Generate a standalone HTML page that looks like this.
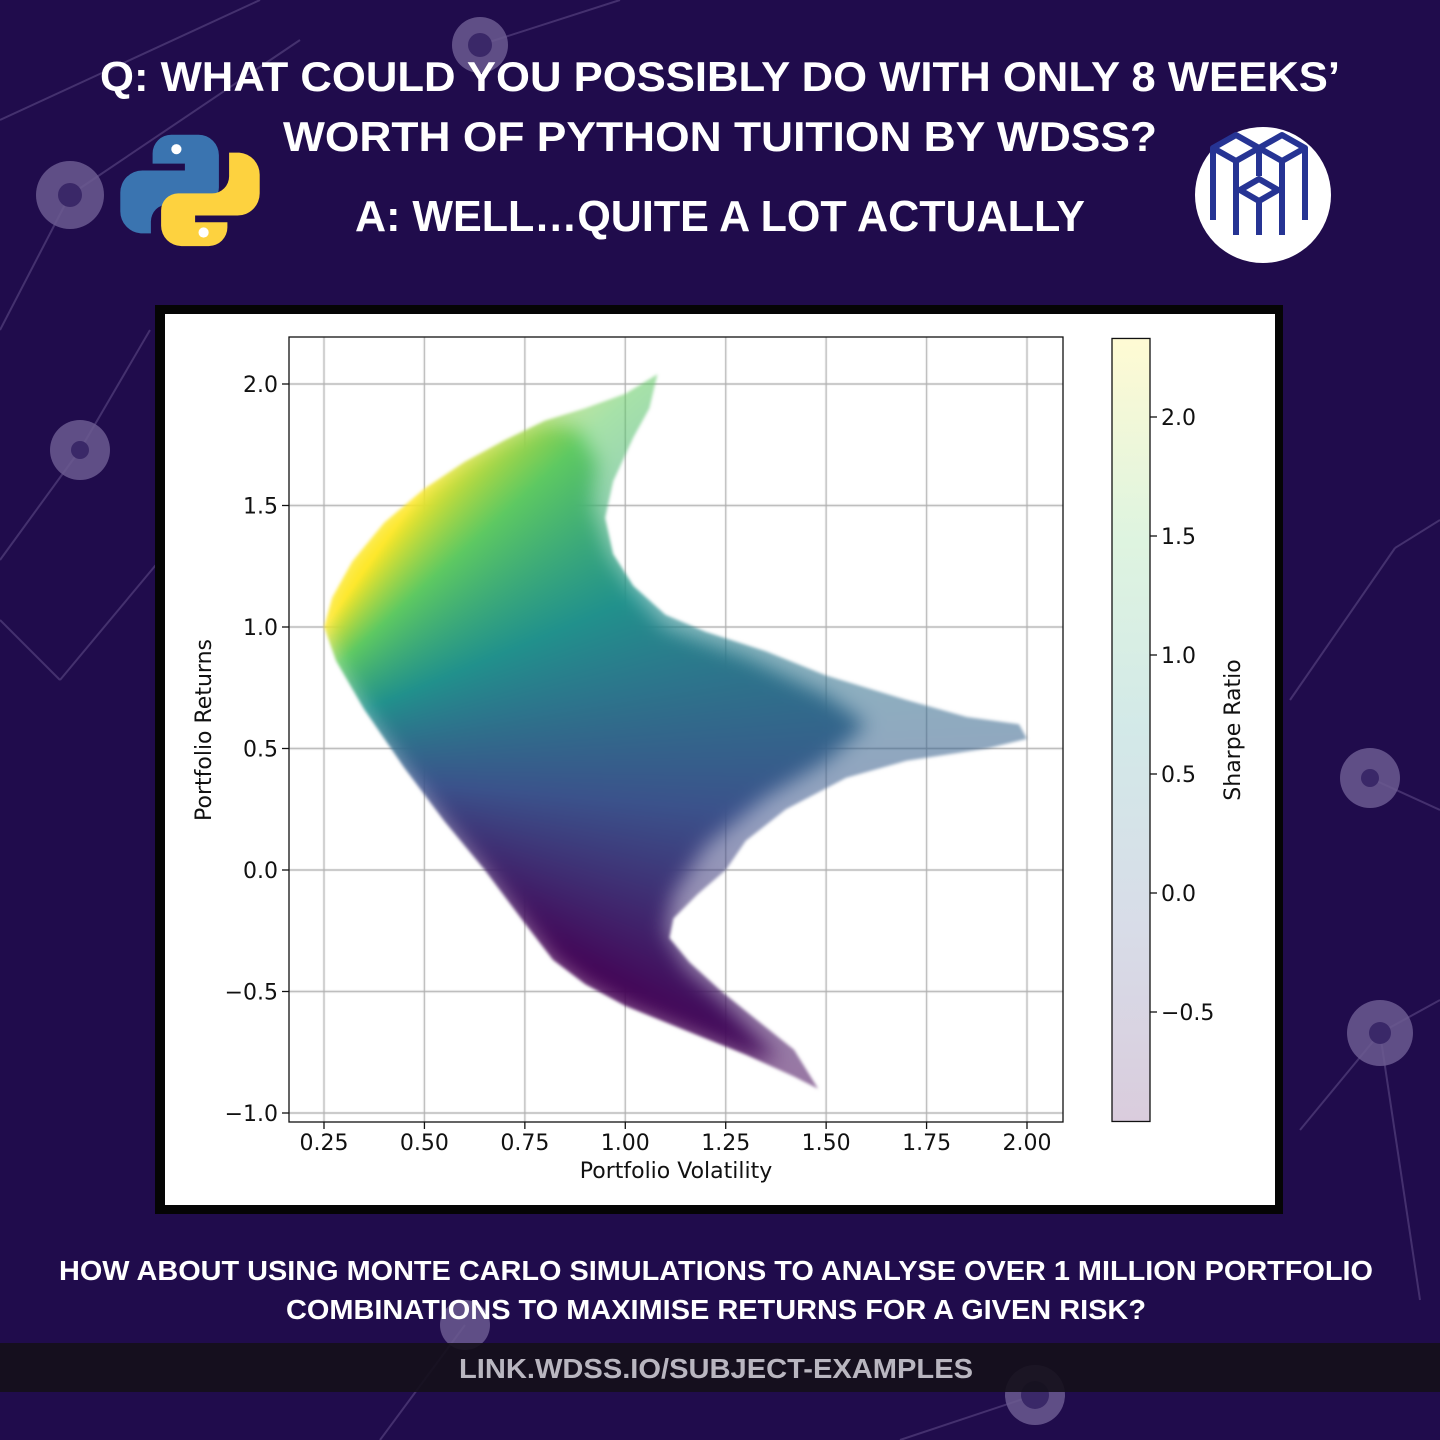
<!DOCTYPE html>
<html><head><meta charset="utf-8"><style>
html,body{margin:0;padding:0;background:#1f0c4a;}
#wrap{position:relative;width:1440px;height:1440px;overflow:hidden;font-family:"Liberation Sans",sans-serif;}
svg,canvas{position:absolute;left:0;top:0;}
</style></head><body>
<div id="wrap">
<svg id="bg" width="1440" height="1440">
  <rect width="1440" height="1440" fill="#200c4c"/>
  <g stroke="#5d4a86" stroke-width="2" fill="none" opacity="0.6">
    <line x1="0" y1="120" x2="260" y2="0"/><line x1="70" y1="195" x2="0" y2="330"/>
    <line x1="70" y1="195" x2="300" y2="40"/><line x1="80" y1="450" x2="0" y2="560"/>
    <line x1="80" y1="450" x2="150" y2="330"/><line x1="60" y1="680" x2="0" y2="620"/>
    <line x1="60" y1="680" x2="160" y2="560"/><line x1="1395" y1="548" x2="1440" y2="520"/>
    <line x1="1395" y1="548" x2="1290" y2="700"/><line x1="1370" y1="778" x2="1440" y2="810"/>
    <line x1="1380" y1="1033" x2="1440" y2="1000"/><line x1="1380" y1="1033" x2="1300" y2="1130"/>
    <line x1="1035" y1="1395" x2="900" y2="1440"/><line x1="465" y1="1325" x2="380" y2="1440"/>
    <line x1="1380" y1="1033" x2="1420" y2="1300"/><line x1="480" y1="45" x2="620" y2="0"/>
  </g>
  <g fill="#6b5a90" opacity="0.85">
    <circle cx="70" cy="195" r="34"/><circle cx="80" cy="450" r="30"/>
    <circle cx="1370" cy="778" r="30"/><circle cx="1380" cy="1033" r="33"/>
    <circle cx="480" cy="45" r="28"/><circle cx="1035" cy="1395" r="30"/><circle cx="465" cy="1325" r="25"/>
  </g>
  <g fill="#3a2868"><circle cx="70" cy="195" r="12"/><circle cx="80" cy="450" r="9"/><circle cx="1370" cy="778" r="9"/><circle cx="1380" cy="1033" r="11"/><circle cx="480" cy="45" r="12"/><circle cx="1035" cy="1395" r="14"/></g>
  <rect x="155" y="305" width="1128" height="909" fill="#050505"/>
  <rect x="165" y="314" width="1110" height="891" fill="#ffffff"/>
</svg>
<canvas id="plot" width="774" height="785" style="left:289px;top:337px;"></canvas>
<svg id="fg" width="1440" height="1440">
  <g fill="#fff" font-weight="bold" text-anchor="middle" font-family="'Liberation Sans',sans-serif">
    <text x="720" y="91" font-size="42" textLength="1240" lengthAdjust="spacingAndGlyphs">Q: WHAT COULD YOU POSSIBLY DO WITH ONLY 8 WEEKS’</text>
    <text x="720" y="151" font-size="42" textLength="874" lengthAdjust="spacingAndGlyphs">WORTH OF PYTHON TUITION BY WDSS?</text>
    <text x="720" y="231" font-size="44" textLength="730" lengthAdjust="spacingAndGlyphs">A: WELL…QUITE A LOT ACTUALLY</text>
    <text x="716" y="1280" font-size="28" textLength="1314" lengthAdjust="spacingAndGlyphs">HOW ABOUT USING MONTE CARLO SIMULATIONS TO ANALYSE OVER 1 MILLION PORTFOLIO</text>
    <text x="716" y="1319" font-size="28" textLength="860" lengthAdjust="spacingAndGlyphs">COMBINATIONS TO MAXIMISE RETURNS FOR A GIVEN RISK?</text>
  </g>
  <rect x="0" y="1343" width="1440" height="49" fill="#141019" opacity="0.9"/>
  <text x="716" y="1378" font-size="28" font-weight="bold" fill="#b9b6c0" text-anchor="middle" textLength="514" lengthAdjust="spacingAndGlyphs">LINK.WDSS.IO/SUBJECT-EXAMPLES</text>
  <g transform="translate(190,190) scale(0.85) translate(-190,-190)">
    <path d="M186,125 h14 a24,24 0 0 1 24,24 v38 a20,20 0 0 1 -20,20 h-40 a20,20 0 0 0 -20,20 v14 h-12 a26,26 0 0 1 -24,-26 v-22 a26,26 0 0 1 26,-26 h50 v-8 h-38 v-12 a22,22 0 0 1 22,-22 z" fill="#3a74b0"/>
    <path d="M194,256 h-14 a24,24 0 0 1 -24,-24 v-18 a20,20 0 0 1 20,-20 h40 a20,20 0 0 0 20,-20 v-28 h12 a26,26 0 0 1 24,26 v22 a26,26 0 0 1 -26,26 h-50 v8 h38 v6 a22,22 0 0 1 -22,22 z" fill="#fdd23f"/>
    <circle cx="174" cy="142" r="6" fill="#fff"/><circle cx="206" cy="240" r="6" fill="#fff"/>
  </g>
  <g>
    <circle cx="1263" cy="195" r="68" fill="#fff"/>
    <g fill="none" stroke="#263494" stroke-width="6" stroke-linejoin="round">
      <path d="M1213,220 v-72 l23,-13 l23,13 l23,-13 l23,13 v72"/>
      <path d="M1213,148 l23,13 l23,-13 M1259,148 l23,13 l23,-13"/>
      <path d="M1236,161 v74 M1282,161 v74 M1259,148 v28"/>
      <path d="M1240,190 l19,-11 l19,11 l-19,11 z M1259,201 v34"/>
    </g>
  </g>
  <g font-family="'DejaVu Sans',sans-serif" font-size="22" fill="#111">
    <rect x="289" y="337" width="774" height="785" fill="none" stroke="#111" stroke-width="1.3"/>
    <g id="xt"></g>
    <g id="yt"></g>
    <text x="676" y="1178" text-anchor="middle">Portfolio Volatility</text>
    <text transform="translate(211,730) rotate(-90)" text-anchor="middle">Portfolio Returns</text>
    <g id="cb"></g>
    <text transform="translate(1240,730) rotate(-90)" text-anchor="middle">Sharpe Ratio</text>
  </g>
  <defs><linearGradient id="vg" x1="0" y1="1" x2="0" y2="0">
    <stop offset="0" stop-color="#440154"/><stop offset="0.25" stop-color="#3b528b"/><stop offset="0.5" stop-color="#21918c"/><stop offset="0.75" stop-color="#5ec962"/><stop offset="1" stop-color="#fde725"/>
  </linearGradient></defs>
</svg>
</div>
<script>
const xTicks=[0.25,0.5,0.75,1.0,1.25,1.5,1.75,2.0];
const xTickLabels=["0.25","0.50","0.75","1.00","1.25","1.50","1.75","2.00"];
const yTicks=[-1.0,-0.5,0.0,0.5,1.0,1.5,2.0];
const yTickLabels=["\u22121.0","\u22120.5","0.0","0.5","1.0","1.5","2.0"];
const cbTicks=[-0.5,0.0,0.5,1.0,1.5,2.0];
const cbTickLabels=["\u22120.5","0.0","0.5","1.0","1.5","2.0"];
const cbMin=-0.96, cbMax=2.33, riskFree=0.42;
const outerVol=[0.25,0.27,0.32,0.4,0.5,0.6,0.7,0.8,0.9,1.0,1.08,1.06,1.02,0.97,0.95,0.97,1.02,1.1,1.2,1.35,1.5,1.7,1.85,1.98,2.0,1.9,1.7,1.55,1.4,1.3,1.25,1.18,1.12,1.11,1.16,1.24,1.33,1.42,1.48,1.42,1.3,1.15,1.0,0.9,0.82,0.75,0.65,0.55,0.45,0.35,0.28];
const outerRet=[1.0,1.12,1.27,1.43,1.57,1.68,1.77,1.85,1.9,1.96,2.04,1.9,1.78,1.6,1.45,1.3,1.17,1.05,0.98,0.9,0.8,0.7,0.63,0.6,0.54,0.5,0.45,0.38,0.25,0.12,0.0,-0.1,-0.2,-0.28,-0.38,-0.5,-0.62,-0.74,-0.9,-0.85,-0.76,-0.66,-0.56,-0.47,-0.37,-0.22,0.0,0.2,0.42,0.66,0.86];
const coreVol=[0.25,0.27,0.32,0.4,0.5,0.6,0.7,0.8,0.88,0.93,0.92,0.96,1.02,1.1,1.3,1.5,1.6,1.5,1.35,1.2,1.12,1.1,1.15,1.25,1.38,1.3,1.15,1.0,0.9,0.82,0.75,0.65,0.55,0.45,0.35,0.28];
const coreRet=[1.0,1.12,1.27,1.43,1.57,1.68,1.77,1.84,1.82,1.68,1.5,1.3,1.15,1.0,0.88,0.72,0.6,0.45,0.3,0.1,-0.1,-0.25,-0.4,-0.55,-0.78,-0.76,-0.66,-0.56,-0.47,-0.37,-0.22,0.0,0.2,0.42,0.66,0.86];

const X0=289,Y0=337,W=774,H=785;
const sx=v=>324+(v-0.25)*(1027-324)/1.75;
const sy=v=>870-v*(870-384)/2.0;
const cy=v=>1012-(v+0.5)*(1012-417)/2.5;
const NS="http://www.w3.org/2000/svg";
function mk(tag,attrs,parent,txt){const e=document.createElementNS(NS,tag);for(const k in attrs)e.setAttribute(k,attrs[k]);if(txt!==undefined)e.textContent=txt;parent.appendChild(e);return e;}
const xt=document.getElementById('xt'),yt=document.getElementById('yt'),cb=document.getElementById('cb');
xTicks.forEach((v,i)=>{const x=sx(v);
  const l=mk('line',{x1:x,x2:x,y1:1122,y2:1129,stroke:'#111','stroke-width':1.3},xt);
  
  
  const t=mk('text',{x:x,y:1150,'text-anchor':'middle'},xt,xTickLabels[i]);
  
  });
yTicks.forEach((v,i)=>{const y=sy(v);
  const l=mk('line',{x1:282,x2:289,y1:y,y2:y,stroke:'#111','stroke-width':1.3},yt);
  
  
  const t=mk('text',{x:278,y:y+8,'text-anchor':'end'},yt,yTickLabels[i]);
  
  });
const bar=mk('rect',{x:1112,y:cy(cbMax),width:38,height:cy(cbMin)-cy(cbMax),fill:'url(#vg)','fill-opacity':0.2},cb);


mk('rect',{x:1112,y:cy(cbMax),width:38,height:cy(cbMin)-cy(cbMax),fill:'none',stroke:'#111','stroke-width':1.3},cb);
cbTicks.forEach((v,i)=>{const y=cy(v);
  mk('line',{x1:1150,x2:1157,y1:y,y2:y,stroke:'#111','stroke-width':1.3},cb);
  const t=mk('text',{x:1161,y:y+8},cb,cbTickLabels[i]);
  
  });

const cv=document.getElementById('plot'),ctx=cv.getContext('2d');
ctx.fillStyle='#fff';ctx.fillRect(0,0,W,H);
ctx.strokeStyle='#b0b0b0';ctx.lineWidth=1.3;
xTicks.forEach(v=>{ctx.beginPath();ctx.moveTo(sx(v)-X0,0);ctx.lineTo(sx(v)-X0,H);ctx.stroke();});
yTicks.forEach(v=>{ctx.beginPath();ctx.moveTo(0,sy(v)-Y0);ctx.lineTo(W,sy(v)-Y0);ctx.stroke();});
function mask(vols,rets,blur){const c=document.createElement('canvas');c.width=W;c.height=H;const g=c.getContext('2d');
  if(blur)g.filter='blur('+blur+'px)';
  g.beginPath();vols.forEach((v,i)=>{const x=sx(v)-X0,y=sy(rets[i])-Y0;i?g.lineTo(x,y):g.moveTo(x,y);});g.closePath();g.fillStyle='#000';g.fill();
  return g.getImageData(0,0,W,H).data;}
const mo=mask(outerVol,outerRet,1.5),mc=mask(coreVol,coreRet,10);
const vs=[[68,1,84],[59,82,139],[33,145,140],[94,201,98],[253,231,37]];
function vir(t){t=Math.max(0,Math.min(1,t))*4;const i=Math.min(3,Math.floor(t)),f=t-i;return vs[i].map((c,k)=>c+(vs[i+1][k]-c)*f);}
const img=ctx.getImageData(0,0,W,H),d=img.data;
const invx=px=>0.25+(px+X0-324)*1.75/(1027-324);
const invy=py=>(870-(py+Y0))*2.0/(870-384);
for(let py=0;py<H;py++){const r=invy(py);for(let px=0;px<W;px++){const k=(py*W+px)*4;const ao=mo[k+3]/255;if(!ao)continue;
  const ac=mc[k+3]/255;const a=Math.min(1,ao*(0.55+0.45*ac));
  const s=(r-riskFree)/invx(px);const col=vir((s-cbMin)/(cbMax-cbMin));
  for(let j=0;j<3;j++)d[k+j]=d[k+j]*(1-a)+col[j]*a;}}
ctx.putImageData(img,0,0);
</script>
</body></html>
